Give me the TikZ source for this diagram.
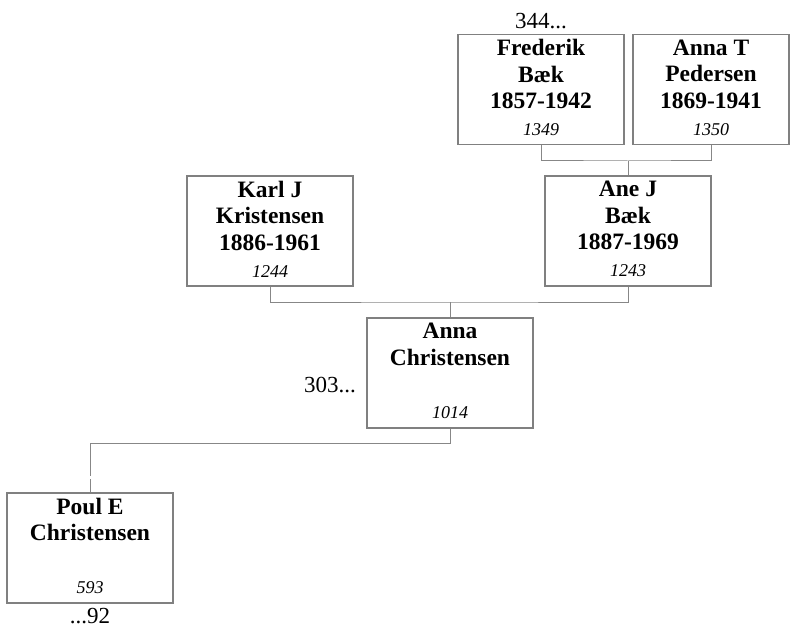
\documentclass[tikz,border=0pt]{standalone}
\usepackage{fontspec}
\setmainfont{Liberation Serif}
\definecolor{boxgray}{RGB}{128,128,128}
\definecolor{linegray}{RGB}{135,135,135}
\newcommand{\famperson}[3][160pt]{\parbox[c][100pt][t]{#1}{\centering
  \fontsize{23.5}{26.5}\selectfont\bfseries #2\par\vfill
  {\mdseries\itshape\fontsize{18}{20}\selectfont #3\par}\vspace*{4pt}}}
\begin{document}
\begin{tikzpicture}[x=1pt,y=-1pt,
  personbox/.style={draw=boxgray,line width=1.3pt,rectangle,inner xsep=3pt,inner ysep=5pt},
  conn/.style={draw=linegray,line width=1pt},
  every node/.style={font=\fontsize{23}{26}\selectfont}]
  \path[use as bounding box] (0,0) rectangle (791,628);
  \node[personbox] (frederik) at (541,89.5) {\famperson{Frederik\\Bæk\\1857-1942}{1349}};
  \node[personbox] (annat) at (711,89.5) {\famperson[150pt]{Anna T\\Pedersen\\1869-1941}{1350}};
  \node[personbox] (karl) at (270,231) {\famperson{Karl J\\Kristensen\\1886-1961}{1244}};
  \node[personbox] (anej) at (628,231) {\famperson{Ane J\\Bæk\\1887-1969}{1243}};
  \node[personbox] (annac) at (450,373) {\famperson{Anna\\Christensen}{1014}};
  \node[personbox] (poul) at (90,548) {\famperson{Poul E\\Christensen}{593}};
  \coordinate (j1) at (628,161);
  \coordinate (j2) at (450,302);
  \coordinate (j3) at (450,443);
  \coordinate (j4) at ([yshift=16pt]poul.north);
  \coordinate (j5) at ([yshift=13pt]poul.north);
  \draw[conn] (frederik.south) |- (j1) -| (annat.south) (j1) -- (anej.north);
  \draw[conn] (karl.south) |- (j2) -| (anej.south) (j2) -- (annac.north);
  \draw[conn] (annac.south) -- (j3) -| (j4) (j5) -- (poul.north);
  \node[anchor=base] (ref344) at ([yshift=5pt]frederik.north) {344...};
  \node[anchor=base east] (ref303) at ([xshift=-7pt,yshift=-19pt]annac.west) {303...};
  \node[anchor=base] (ref92) at ([yshift=-20pt]poul.south) {...92};
\end{tikzpicture}
\end{document}
